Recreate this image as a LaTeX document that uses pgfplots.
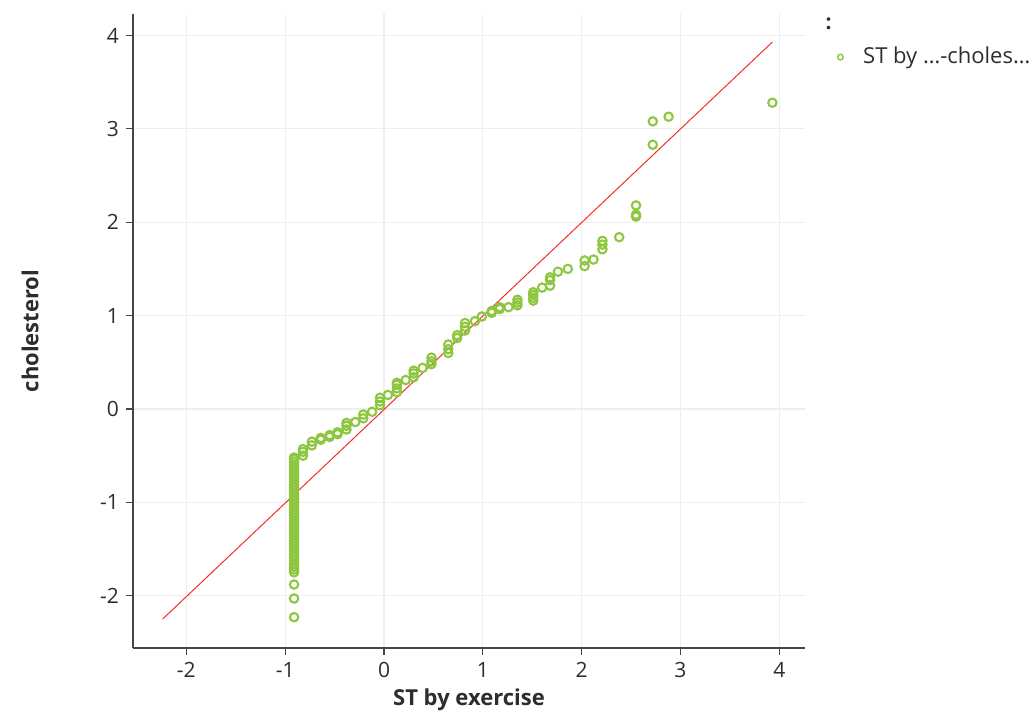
\documentclass[border=0pt]{standalone}
\usepackage{pgfplots}
\pgfplotsset{compat=1.18}
\usepackage{fontspec}
\setmainfont{Open Sans}
\definecolor{ptgreen}{RGB}{141,198,63}
\definecolor{axgray}{RGB}{70,70,70}
\definecolor{txtgray}{RGB}{45,45,45}
\definecolor{gridgray}{RGB}{238,238,238}
\definecolor{lnred}{RGB}{245,45,45}
\begin{document}
\begin{tikzpicture}
\path[use as bounding box] (0,0) rectangle (518pt,357.5pt);
\begin{axis}[
  at={(66.5pt,33.5pt)}, anchor=south west,
  width=336pt, height=317pt, scale only axis,
  xmin=-2.54, xmax=4.26, ymin=-2.56, ymax=4.23,
  axis lines=left, axis line style={axgray, line width=0.8pt, -},
  xtick={-2,-1,0,1,2,3,4}, ytick={-2,-1,0,1,2,3,4},
  tick align=outside, major tick length=3.5pt,
  tick style={axgray, line width=0.6pt},
  grid=major, major grid style={gridgray, line width=0.6pt},
  /pgf/number format/assume math mode=true,
  ticklabel style={txtgray, font=\fontsize{10.5}{12}\selectfont},
  xlabel={\textbf{ST by exercise}}, ylabel={\textbf{cholesterol}},
  label style={txtgray, font=\fontsize{11}{13}\selectfont},
  xlabel style={at={(axis description cs:0.5,0)}, anchor=center, yshift=-26pt},
  ylabel style={at={(axis description cs:-0.153,0.5)}, anchor=center},
  clip=false,
  legend style={at={(axis description cs:1.039,0.932)}, anchor=west, draw=none, fill=none,
    font=\fontsize{11}{13}\selectfont, text=txtgray, legend cell align=left,
    nodes={inner xsep=5pt}, column sep=5pt},
]
\addlegendimage{only marks, mark=o, mark size=1.4pt, draw=ptgreen, mark options={line width=0.7pt}}
\addlegendentry{ST by …-choles…}
\addplot[lnred, line width=0.5pt, forget plot] coordinates {(-2.24,-2.25) (3.93,3.93)};
\addplot[only marks, mark=o, mark size=2.1pt, draw=ptgreen, mark options={line width=1.05pt}, forget plot] table {
x y
-0.91 -2.23
-0.91 -2.03
-0.91 -1.88
-0.91 -1.75
-0.91 -1.72
-0.91 -1.69
-0.91 -1.66
-0.91 -1.62
-0.91 -1.59
-0.91 -1.56
-0.91 -1.53
-0.91 -1.50
-0.91 -1.47
-0.91 -1.44
-0.91 -1.41
-0.91 -1.38
-0.91 -1.35
-0.91 -1.32
-0.91 -1.29
-0.91 -1.26
-0.91 -1.23
-0.91 -1.20
-0.91 -1.17
-0.91 -1.14
-0.91 -1.11
-0.91 -1.08
-0.91 -1.05
-0.91 -1.02
-0.91 -0.99
-0.91 -0.96
-0.91 -0.93
-0.91 -0.90
-0.91 -0.87
-0.91 -0.84
-0.91 -0.81
-0.91 -0.78
-0.91 -0.75
-0.91 -0.72
-0.91 -0.69
-0.91 -0.66
-0.91 -0.63
-0.91 -0.60
-0.91 -0.57
-0.91 -0.54
-0.91 -0.52
-0.82 -0.50
-0.82 -0.46
-0.82 -0.43
-0.73 -0.39
-0.73 -0.35
-0.64 -0.33
-0.64 -0.31
-0.55 -0.30
-0.55 -0.28
-0.47 -0.27
-0.47 -0.25
-0.38 -0.22
-0.38 -0.18
-0.38 -0.15
-0.29 -0.14
-0.21 -0.10
-0.21 -0.06
-0.12 -0.03
-0.04 0.04
-0.04 0.08
-0.04 0.12
0.04 0.15
0.13 0.18
0.13 0.22
0.13 0.26
0.13 0.28
0.22 0.31
0.30 0.34
0.30 0.38
0.30 0.41
0.39 0.44
0.48 0.48
0.48 0.51
0.48 0.55
0.65 0.60
0.65 0.64
0.65 0.69
0.74 0.76
0.74 0.79
0.82 0.84
0.82 0.88
0.82 0.92
0.92 0.94
0.99 0.99
1.09 1.03
1.09 1.05
1.17 1.07
1.17 1.09
1.26 1.09
1.35 1.11
1.35 1.14
1.35 1.17
1.51 1.16
1.51 1.19
1.51 1.22
1.51 1.25
1.60 1.30
1.68 1.32
1.68 1.38
1.68 1.41
1.76 1.47
1.86 1.50
2.03 1.53
2.03 1.59
2.12 1.60
2.21 1.71
2.21 1.76
2.21 1.80
2.38 1.84
2.55 2.06
2.55 2.08
2.55 2.18
2.72 2.83
2.72 3.08
2.88 3.13
3.93 3.28
};
\node[anchor=center, text=txtgray, font=\bfseries\fontsize{10.5}{12}\selectfont] at (axis description cs:1.035,0.985) {:};
\end{axis}
\end{tikzpicture}
\end{document}
